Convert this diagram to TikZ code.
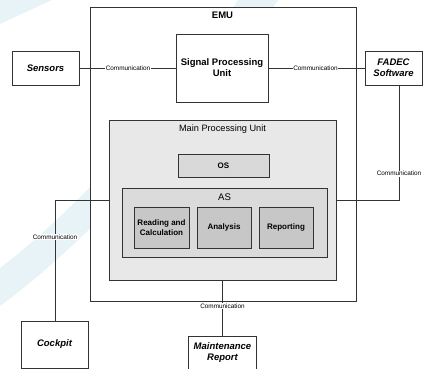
\documentclass[tikz,border=0pt]{standalone}
\usepackage{fontspec}
\setmainfont{Liberation Sans}
\definecolor{wm}{HTML}{E8F3F8}
\begin{document}
\begin{tikzpicture}[x=1pt,y=-1pt,
  box/.style={draw=black!80,line width=0.8pt,inner sep=1pt,align=center,font=\fontsize{9.5}{11}\selectfont\bfseries},
  ext/.style={box,fill=white,font=\fontsize{9.5}{11}\selectfont\bfseries\itshape},
  sub/.style={box,fill=black!22,font=\fontsize{8}{9.3}\selectfont\bfseries},
  conn/.style={draw=black!80,line width=0.8pt},
  title/.style={font=\fontsize{9.2}{10}\selectfont},
  lbl/.style={fill=white,inner sep=0.6pt,font=\fontsize{6.4}{7}\selectfont}]
\useasboundingbox (0,0) rectangle (423,369);
% faint watermark in the background
\fill[wm] (0,268) .. controls (70,215) and (170,110) .. (238,0) -- (278,0) .. controls (200,120) and (90,240) .. (0,306) -- cycle;
\fill[wm] (0,0) -- (52,0) -- (0,24) -- cycle;
% EMU frame
\node[draw=black!80,fill=white,line width=0.8pt,minimum width=266pt,minimum height=294pt,inner sep=0] (emu) at (223,154) {};
\node[font=\fontsize{9.5}{10}\selectfont\bfseries] (emut) at (222.5,15.5) {EMU};
% external
\node[ext,minimum width=67pt,minimum height=34pt] (sensors) at (45.5,68) {Sensors};
\node[ext,minimum width=57pt,minimum height=34pt] (fadec) at (393.5,68) {FADEC\\Software};
\node[ext,minimum width=67pt,minimum height=47pt] (cockpit) at (54.5,344.5) {Cockpit};
\node[draw=black!80,fill=white,line width=0.8pt,minimum width=68pt,minimum height=40pt,inner sep=0,anchor=north] (maint) at (222.5,336) {};
\node[align=center,inner sep=0,font=\fontsize{9.5}{11}\selectfont\bfseries\itshape] (mainttxt) at (222.5,352.5) {Maintenance\\Report};
% SPU
\node[box,fill=white,minimum width=92pt,minimum height=68pt] (spu) at (222,68) {Signal Processing\\Unit};
% MPU
\node[draw=black!80,line width=0.8pt,fill=black!9,minimum width=227pt,minimum height=160pt,inner sep=0] (mpu) at (222.5,200) {};
\node[title] (mput) at (222.5,129) {Main Processing Unit};
\node[box,fill=black!15,minimum width=91pt,minimum height=23pt,font=\fontsize{8}{9}\selectfont\bfseries] (os) at (223.5,165.5) {OS};
\node[draw=black!80,line width=0.8pt,fill=black!14,minimum width=205pt,minimum height=69pt,inner sep=0] (as) at (224.5,222.5) {};
\node[title,font=\fontsize{9.6}{10}\selectfont] (ast) at (224.5,197) {AS};
\node[sub,minimum width=55pt,minimum height=41pt] (read) at (161.5,227.5) {Reading and\\Calculation};
\node[sub,minimum width=54pt,minimum height=41pt] (ana) at (224,227.5) {Analysis};
\node[sub,minimum width=54pt,minimum height=41pt] (rep) at (286,227.5) {Reporting};
% connectors
\draw[conn] (sensors.east) -- node[lbl,pos=0.505]{Communication} (spu.west);
\draw[conn] (spu.east) -- node[lbl,pos=0.49]{Communication} (fadec.west);
\coordinate (fc) at (399,200);
\draw[conn] (fadec.south -| fc) -- node[lbl,pos=0.77]{Communication} (fc) -- (mpu.east |- fc);
\coordinate (cc) at (55,200);
\draw[conn] (mpu.west |- cc) -- (cc) -- node[lbl,pos=0.31]{Communication} (cc |- cockpit.north);
\coordinate (mc) at (222.5,306);
\draw[conn] (mpu.south -| maint.north) -- (mc) node[lbl]{Communication} -- (maint.north);
\end{tikzpicture}
\end{document}
